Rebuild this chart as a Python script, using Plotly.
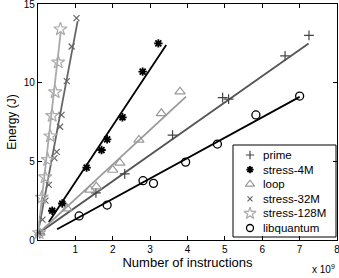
import plotly.graph_objects as go

# ---------------- data ----------------
series_names = ["prime", "stress-4M", "loop", "stress-32M", "stress-128M", "libquantum"]

prime_x = [0.05, 1.55, 2.32, 3.6, 4.94, 5.1, 6.61, 7.25]
prime_y = [0.4, 3.0, 4.2, 6.67, 9.05, 8.96, 11.7, 13.0]

stress4m_x = [0.38, 0.65, 1.3, 1.7, 1.85, 2.26, 2.8, 3.22]
stress4m_y = [1.86, 2.32, 4.6, 5.72, 6.4, 7.8, 10.7, 12.5]

loop_x = [0.05, 0.78, 1.39, 1.56, 2.0, 2.19, 2.7, 3.3, 3.8]
loop_y = [0.45, 2.0, 3.18, 3.39, 4.45, 4.9, 6.36, 8.05, 9.43]

stress32m_x = [0.03, 0.12, 0.2, 0.29, 0.44, 0.5, 0.59, 0.63, 0.77, 0.9, 1.03]
stress32m_y = [0.45, 1.3, 2.5, 3.5, 5.2, 5.6, 7.2, 7.95, 10.1, 12.3, 14.1]

stress128m_x = [0.03, 0.1, 0.19, 0.26, 0.33, 0.38, 0.46, 0.54, 0.6]
stress128m_y = [0.45, 2.7, 4.0, 5.1, 6.6, 7.9, 9.4, 11.3, 13.4]

libquantum_x = [1.1, 1.85, 2.81, 3.09, 3.95, 4.8, 5.83, 7.0]
libquantum_y = [1.53, 2.22, 3.77, 3.6, 4.95, 6.1, 7.95, 9.15]

# linear fits: y = slope * x + intercept, drawn over [fit_x0, fit_x1]
fit_x0 = [0.0, 0.29, 0.0, 0.0, 0.0, 0.51]
fit_x1 = [7.24, 3.43, 3.96, 1.06, 0.61, 7.0]
fit_slope = [1.67, 3.58, 2.2, 12.7, 21.0, 1.297]
fit_intercept = [0.4, 0.11, 0.4, 0.45, 0.45, 0.018]

x_tick_vals = [1, 2, 3, 4, 5, 6, 7, 8]
y_tick_vals = [0, 5, 10, 15]
x_title = "Number of instructions"
y_title = "Energy (J)"
x_exponent = "x 10<sup>9</sup>"

xs = [prime_x, stress4m_x, loop_x, stress32m_x, stress128m_x, libquantum_x]
ys = [prime_y, stress4m_y, loop_y, stress32m_y, stress128m_y, libquantum_y]

# ---------------- styles ----------------
line_colors = ["#555555", "#000000", "#999999", "#666666", "#aaaaaa", "#000000"]
marker_colors = ["#444444", "#000000", "#999999", "#666666", "#aaaaaa", "#000000"]
marker_symbols = ["cross-thin-open", "asterisk-open", "triangle-up-open",
                  "x-thin-open", "star-open", "circle-open"]
marker_sizes = [7, 7, 9, 6, 10, 8]
marker_lw = [1.2, 1.8, 1.2, 1.2, 1.2, 1.3]

FONT = "Liberation Sans, Arial, Helvetica, sans-serif"

fig = go.Figure()

for i, name in enumerate(series_names):
    lx = [fit_x0[i], fit_x1[i]]
    ly = [fit_slope[i] * v + fit_intercept[i] for v in lx]
    fig.add_trace(go.Scatter(x=lx, y=ly, mode="lines",
                             line=dict(color=line_colors[i], width=1.8),
                             showlegend=False, hoverinfo="skip"))

for i, name in enumerate(series_names):
    fig.add_trace(go.Scatter(x=xs[i], y=ys[i], mode="markers", name=name,
                             marker=dict(symbol=marker_symbols[i], size=marker_sizes[i],
                                         color=marker_colors[i],
                                         line=dict(color=marker_colors[i], width=marker_lw[i])),
                             showlegend=False, cliponaxis=False))

# ---------------- manual legend (pixel-like overlay axes) ----------------
leg_left, leg_right, leg_top, leg_bottom = 233, 336, 145, 237
row_y0, row_dy = 155, 14.6
mark_x, text_x = 250, 261

fig.add_shape(type="rect", xref="x2", yref="y2", x0=leg_left, x1=leg_right,
              y0=leg_top, y1=leg_bottom, fillcolor="white",
              line=dict(color="black", width=1), layer="below")

for i, name in enumerate(series_names):
    ry = row_y0 + i * row_dy
    fig.add_trace(go.Scatter(x=[mark_x], y=[ry], mode="markers", xaxis="x2", yaxis="y2",
                             marker=dict(symbol=marker_symbols[i], size=marker_sizes[i] - 1,
                                         color=marker_colors[i],
                                         line=dict(color=marker_colors[i], width=marker_lw[i])),
                             showlegend=False, hoverinfo="skip", cliponaxis=False))
    fig.add_annotation(x=text_x, y=ry, xref="x2", yref="y2", text=name, showarrow=False,
                       xanchor="left", yanchor="middle",
                       font=dict(family=FONT, size=11.5, color="black"))

fig.add_annotation(x=1, y=0, xref="paper", yref="paper", text=x_exponent, showarrow=False,
                   xanchor="right", yanchor="top", yshift=-21,
                   font=dict(family=FONT, size=10, color="black"))

axis_common = dict(showgrid=False, zeroline=False, showline=True, linecolor="black",
                   linewidth=1.3, ticks="inside", ticklen=4, tickcolor="black",
                   mirror="allticks", automargin=False, ticklabeloverflow="allow",
                   tickfont=dict(family=FONT, size=10, color="black"))

fig.update_layout(
    width=339, height=278,
    margin=dict(l=38, r=2, t=4, b=38),
    plot_bgcolor="white", paper_bgcolor="white",
    showlegend=False,
    font=dict(family=FONT, color="black"),
    xaxis=dict(range=[0, 8], tickvals=x_tick_vals, **axis_common,
               title=dict(text=x_title, font=dict(family=FONT, size=13, color="black"),
                          standoff=2)),
    yaxis=dict(range=[0, 15], tickvals=y_tick_vals, **axis_common,
               title=dict(text=y_title, font=dict(family=FONT, size=12, color="black"),
                          standoff=4)),
    xaxis2=dict(range=[38, 337], overlaying="x", visible=False, anchor="y2"),
    yaxis2=dict(range=[240, 4], overlaying="y", visible=False, anchor="x2"),
)

fig.write_html("out.html", config={"displayModeBar": False},
               post_script="document.body.style.margin='0';")
